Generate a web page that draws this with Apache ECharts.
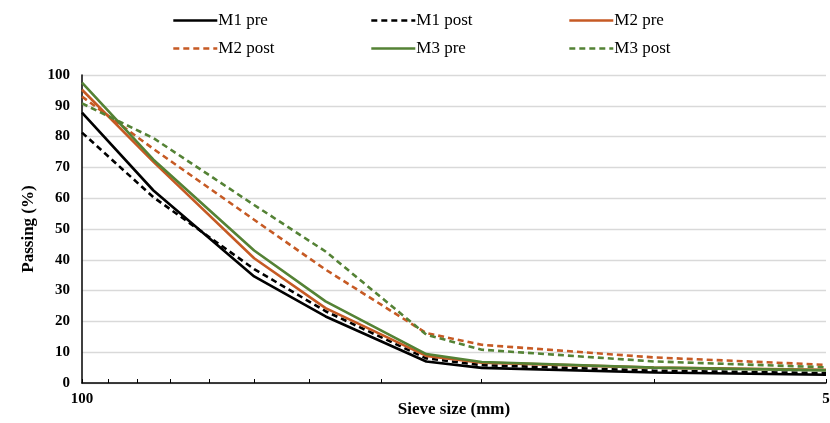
<!DOCTYPE html>
<html>
<head>
<meta charset="utf-8">
<script src="https://cdn.jsdelivr.net/npm/echarts@6/dist/echarts.min.js"></script>
<style>
  html, body { margin: 0; padding: 0; background: #fff; }
  #chart { width: 830px; height: 423px; }
</style>
</head>
<body>
<div id="chart"></div>
<script>
// Sieve sizes (mm) and percentage passing for each mix, before and after
const sieveSizes = [100, 75, 50, 37.5, 25, 20, 10, 5];
const m1Pre  = [87.8, 62.5, 34.6, 21.6, 7.0, 4.9, 3.4, 2.7];
const m1Post = [81.3, 60.3, 37.0, 23.3, 8.0, 5.8, 4.0, 3.2];
const m2Pre  = [95.2, 71.8, 40.5, 24.3, 8.8, 6.6, 5.0, 4.3];
const m2Post = [93.0, 76.0, 53.0, 36.8, 16.2, 12.4, 8.3, 5.9];
const m3Pre  = [97.5, 72.5, 43.0, 26.5, 9.4, 6.8, 5.0, 4.1];
const m3Post = [90.8, 79.5, 57.8, 42.7, 15.7, 10.8, 7.0, 5.1];

// Tick marks and labels on the sieve-size axis
const xTickValues = [100, 90, 80, 70, 60, 50, 40, 30, 20, 10, 5];
const xLabelValues = [100, 5];

const BLACK = '#000000';
const ORANGE = '#c65a24';
const GREEN = '#548235';
const SERIF = '"Liberation Serif", "DejaVu Serif", serif';

const seriesDefs = [
  { name: 'M1 pre',  data: m1Pre,  color: BLACK,  dashed: false },
  { name: 'M1 post', data: m1Post, color: BLACK,  dashed: true },
  { name: 'M2 pre',  data: m2Pre,  color: ORANGE, dashed: false },
  { name: 'M2 post', data: m2Post, color: ORANGE, dashed: true },
  { name: 'M3 pre',  data: m3Pre,  color: GREEN,  dashed: false },
  { name: 'M3 post', data: m3Post, color: GREEN,  dashed: true }
];

// Legend slots: two rows of three
const legendSlots = [
  { left: 172, top: 12 }, { left: 370, top: 12 }, { left: 568, top: 12 },
  { left: 172, top: 40 }, { left: 370, top: 40 }, { left: 568, top: 40 }
];

const chart = echarts.init(document.getElementById('chart'), null, { renderer: 'canvas' });

const dashPattern = [6, 4];

const option = {
  animation: false,
  backgroundColor: '#ffffff',
  legend: seriesDefs.map((s, i) => ({
    data: [{ name: s.name }],
    left: legendSlots[i].left,
    top: legendSlots[i].top,
    itemWidth: 44,
    itemHeight: 16,
    itemGap: 0,
    padding: 0,
    itemStyle: { opacity: 0 },
    lineStyle: { width: 2.6 },
    textStyle: { fontFamily: SERIF, fontSize: 17, color: '#000', padding: [0, 0, 0, -4] }
  })),
  grid: { left: 82, right: 4, top: 75, bottom: 40, outerBoundsMode: 'none' },
  xAxis: {
    type: 'log',
    logBase: 10,
    inverse: true,
    min: 5,
    max: 100,
    name: 'Sieve size (mm)',
    nameLocation: 'middle',
    nameGap: 18,
    nameMoveOverlap: false,
    nameTextStyle: { fontFamily: SERIF, fontSize: 17, fontWeight: 'bold', color: '#000' },
    axisLine: { show: true, lineStyle: { color: '#000', width: 1.5 } },
    axisTick: { show: true, inside: true, length: 4, lineStyle: { color: '#000', width: 1 }, customValues: xTickValues },
    axisLabel: {
      show: true, margin: 9, customValues: xLabelValues,
      fontFamily: SERIF, fontSize: 15, fontWeight: 'bold', color: '#000'
    },
    splitLine: { show: false },
    minorTick: { show: false },
    minorSplitLine: { show: false }
  },
  yAxis: {
    type: 'value',
    min: 0,
    max: 100,
    interval: 10,
    name: 'Passing (%)',
    nameLocation: 'middle',
    nameGap: 45,
    nameMoveOverlap: false,
    nameTextStyle: { fontFamily: SERIF, fontSize: 17, fontWeight: 'bold', color: '#000' },
    axisLine: { show: true, lineStyle: { color: '#000', width: 1.5 } },
    axisTick: { show: false },
    axisLabel: { margin: 12, fontFamily: SERIF, fontSize: 15, fontWeight: 'bold', color: '#000' },
    splitLine: { show: true, lineStyle: { color: '#d9d9d9', width: 1.3 } }
  },
  series: seriesDefs.map(s => ({
    name: s.name,
    type: 'line',
    data: sieveSizes.map((d, i) => [d, s.data[i]]),
    showSymbol: false,
    symbol: 'none',
    color: s.color,
    lineStyle: { color: s.color, width: 2.6, type: s.dashed ? dashPattern : 'solid' },
    itemStyle: { color: s.color }
  }))
};

chart.setOption(option);
</script>
</body>
</html>
